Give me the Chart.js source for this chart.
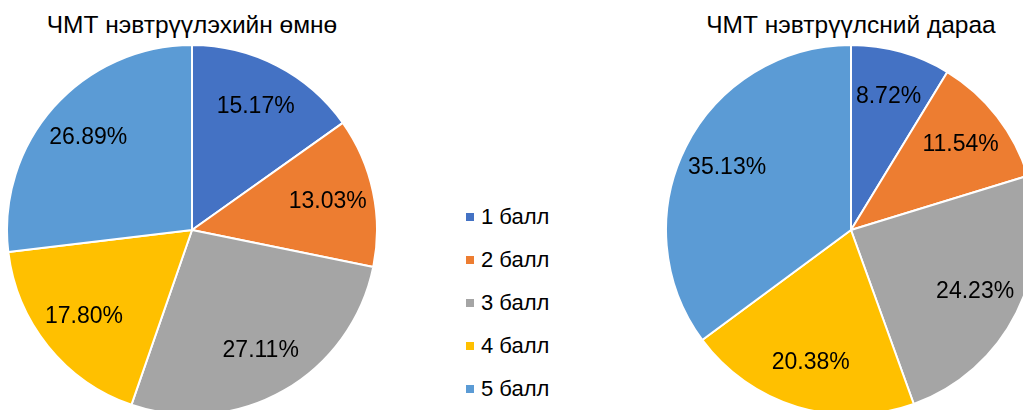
<!DOCTYPE html>
<html>
<head>
<meta charset="utf-8">
<script src="https://cdn.jsdelivr.net/npm/chart.js@4"></script>
<style>
  body { margin: 0; background: #fff; }
  #wrap { position: relative; width: 1023px; height: 410px; overflow: hidden; font-family: "Liberation Sans", Arial, sans-serif; }
  .title { position: absolute; top: 11px; width: 372px; text-align: center; font-size: 24.5px; color: #000; white-space: nowrap; }
  .pie { position: absolute; top: 44px; width: 372px; height: 372px; }
  #legend { position: absolute; left: 466px; top: 202px; font-size: 22px; color: #000; }
  #legend div { height: 43px; line-height: 29px; white-space: nowrap; }
  #legend span { display: inline-block; width: 8px; height: 8px; margin-right: 7px; vertical-align: 3px; }
</style>
</head>
<body>
<div id="wrap">
  <div class="title" style="left:6px">ЧМТ нэвтрүүлэхийн өмнө</div>
  <div class="title" style="left:665px">ЧМТ нэвтрүүлсний дараа</div>
  <div class="pie" style="left:6px"><canvas id="pieBefore"></canvas></div>
  <div class="pie" style="left:665px"><canvas id="pieAfter"></canvas></div>
  <div id="legend"></div>
</div>
<script>
const categories = ["1 балл", "2 балл", "3 балл", "4 балл", "5 балл"];
const before = [15.17, 13.03, 27.11, 17.80, 26.89];
const after = [8.72, 11.54, 24.23, 20.38, 35.13];
const colors = ["#4472C4", "#ED7D31", "#A5A5A5", "#FFC000", "#5B9BD5"];

// percent labels inside each slice
const percentLabels = {
  id: "percentLabels",
  afterDatasetsDraw(chart) {
    const ctx = chart.ctx;
    const meta = chart.getDatasetMeta(0);
    const data = chart.data.datasets[0].data;
    ctx.save();
    ctx.font = "23px 'Liberation Sans', Arial, sans-serif";
    ctx.fillStyle = "#000";
    ctx.textAlign = "center";
    ctx.textBaseline = "middle";
    meta.data.forEach((arc, i) => {
      const p = arc.getProps(["x", "y", "startAngle", "endAngle", "outerRadius"], true);
      const mid = (p.startAngle + p.endAngle) / 2;
      const r = p.outerRadius * 0.75;
      ctx.fillText(data[i].toFixed(2) + "%", p.x + Math.cos(mid) * r, p.y + Math.sin(mid) * r);
    });
    ctx.restore();
  }
};

function dibujarPie(id, valores) {
  new Chart(document.getElementById(id), {
    type: "pie",
    data: {
      labels: categories,
      datasets: [{
        data: valores,
        backgroundColor: colors,
        borderColor: "#fff",
        borderWidth: 2
      }]
    },
    options: {
      responsive: true,
      maintainAspectRatio: false,
      animation: false,
      layout: { padding: 0 },
      plugins: { legend: { display: false }, tooltip: { enabled: false } }
    },
    plugins: [percentLabels]
  });
}

dibujarPie("pieBefore", before);
dibujarPie("pieAfter", after);

let html = "";
categories.forEach((c, i) => {
  html += `<div><span style="background:${colors[i]}"></span>${c}</div>`;
});
document.getElementById("legend").innerHTML = html;
</script>
</body>
</html>
